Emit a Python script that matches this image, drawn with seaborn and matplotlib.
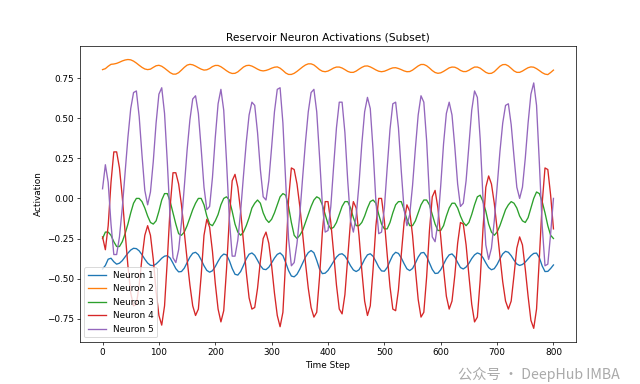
import matplotlib
matplotlib.use("Agg")
import matplotlib.pyplot as plt
import seaborn as sns

# ------------------------------------------------
# Data (one value every 5 steps)
# ------------------------------------------------

time_step = list(range(0, 801, 5))

neuron_names = ["Neuron 1", "Neuron 2", "Neuron 3", "Neuron 4", "Neuron 5"]

neuron_1 = [
    -0.440, -0.418, -0.379, -0.373, -0.395, -0.410, -0.404, -0.388, -0.365, -0.341,
    -0.322, -0.311, -0.313, -0.327, -0.351, -0.379, -0.403, -0.417, -0.419, -0.409,
    -0.392, -0.373, -0.360, -0.357, -0.372, -0.404, -0.438, -0.458, -0.456, -0.435,
    -0.401, -0.366, -0.342, -0.336, -0.351, -0.383, -0.420, -0.449, -0.460, -0.451,
    -0.425, -0.392, -0.363, -0.347, -0.352, -0.388, -0.437, -0.473, -0.478, -0.456,
    -0.418, -0.377, -0.348, -0.340, -0.355, -0.386, -0.419, -0.441, -0.444, -0.429,
    -0.402, -0.372, -0.349, -0.340, -0.357, -0.400, -0.450, -0.484, -0.489, -0.473,
    -0.441, -0.404, -0.366, -0.338, -0.325, -0.339, -0.386, -0.440, -0.469, -0.466,
    -0.449, -0.422, -0.393, -0.366, -0.349, -0.345, -0.359, -0.387, -0.420, -0.446,
    -0.456, -0.445, -0.415, -0.379, -0.352, -0.345, -0.361, -0.393, -0.428, -0.452,
    -0.454, -0.431, -0.391, -0.354, -0.336, -0.343, -0.371, -0.407, -0.439, -0.450,
    -0.437, -0.404, -0.366, -0.340, -0.337, -0.362, -0.403, -0.443, -0.468, -0.466,
    -0.445, -0.411, -0.376, -0.352, -0.346, -0.365, -0.400, -0.431, -0.440, -0.428,
    -0.405, -0.375, -0.352, -0.340, -0.347, -0.370, -0.402, -0.431, -0.445, -0.438,
    -0.412, -0.377, -0.346, -0.330, -0.336, -0.357, -0.385, -0.409, -0.418, -0.412,
    -0.397, -0.377, -0.357, -0.343, -0.341, -0.370, -0.421, -0.456, -0.455, -0.437,
    -0.415,
]

neuron_2 = [
    0.803, 0.809, 0.824, 0.836, 0.838, 0.842, 0.849, 0.857, 0.863, 0.866,
    0.864, 0.856, 0.844, 0.830, 0.817, 0.807, 0.803, 0.806, 0.817, 0.827,
    0.830, 0.824, 0.812, 0.798, 0.784, 0.775, 0.775, 0.784, 0.800, 0.817,
    0.831, 0.836, 0.833, 0.825, 0.815, 0.806, 0.800, 0.802, 0.810, 0.822,
    0.829, 0.829, 0.821, 0.809, 0.796, 0.785, 0.779, 0.780, 0.789, 0.804,
    0.819, 0.828, 0.830, 0.825, 0.816, 0.806, 0.798, 0.795, 0.798, 0.804,
    0.812, 0.818, 0.820, 0.812, 0.798, 0.782, 0.773, 0.773, 0.780, 0.792,
    0.806, 0.820, 0.832, 0.839, 0.839, 0.832, 0.818, 0.803, 0.793, 0.790,
    0.794, 0.803, 0.813, 0.819, 0.819, 0.813, 0.803, 0.792, 0.786, 0.786,
    0.794, 0.806, 0.817, 0.825, 0.826, 0.820, 0.811, 0.801, 0.793, 0.790,
    0.793, 0.800, 0.808, 0.814, 0.815, 0.810, 0.803, 0.795, 0.790, 0.791,
    0.800, 0.813, 0.826, 0.835, 0.835, 0.827, 0.813, 0.797, 0.785, 0.780,
    0.783, 0.792, 0.803, 0.814, 0.819, 0.818, 0.810, 0.798, 0.791, 0.791,
    0.799, 0.810, 0.819, 0.819, 0.812, 0.799, 0.786, 0.779, 0.780, 0.790,
    0.807, 0.824, 0.834, 0.835, 0.826, 0.811, 0.795, 0.786, 0.786, 0.794,
    0.805, 0.815, 0.820, 0.818, 0.809, 0.797, 0.784, 0.775, 0.772, 0.785,
    0.800,
]

neuron_3 = [
    -0.25, -0.21, -0.21, -0.23, -0.27, -0.30, -0.30, -0.27, -0.22, -0.16,
    -0.09, -0.03, 0.00, 0.00, -0.02, -0.06, -0.11, -0.15, -0.16, -0.14,
    -0.08, -0.01, 0.03, 0.03, -0.02, -0.09, -0.16, -0.22, -0.23, -0.21,
    -0.17, -0.12, -0.07, -0.03, 0.00, 0.00, -0.04, -0.11, -0.16, -0.17,
    -0.14, -0.10, -0.04, 0.00, 0.01, -0.01, -0.08, -0.16, -0.21, -0.23,
    -0.21, -0.17, -0.12, -0.06, -0.03, -0.01, -0.03, -0.09, -0.13, -0.15,
    -0.13, -0.09, -0.04, 0.01, 0.03, 0.02, -0.05, -0.15, -0.23, -0.25,
    -0.23, -0.20, -0.15, -0.10, -0.05, -0.01, 0.01, 0.00, -0.04, -0.10,
    -0.16, -0.19, -0.18, -0.15, -0.10, -0.05, -0.02, -0.02, -0.06, -0.12,
    -0.17, -0.17, -0.15, -0.11, -0.06, -0.02, -0.01, -0.03, -0.10, -0.16,
    -0.19, -0.19, -0.15, -0.09, -0.04, -0.02, -0.02, -0.07, -0.13, -0.17,
    -0.17, -0.14, -0.09, -0.04, -0.01, -0.01, -0.04, -0.10, -0.16, -0.20,
    -0.20, -0.17, -0.11, -0.06, -0.03, -0.03, -0.06, -0.11, -0.15, -0.17,
    -0.15, -0.10, -0.04, 0.01, 0.02, -0.02, -0.08, -0.16, -0.21, -0.23,
    -0.21, -0.17, -0.12, -0.07, -0.04, -0.02, -0.03, -0.06, -0.11, -0.14,
    -0.15, -0.12, -0.06, 0.00, 0.04, 0.03, -0.02, -0.09, -0.17, -0.23,
    -0.25,
]

neuron_4 = [
    -0.24, -0.32, -0.17, 0.10, 0.29, 0.29, 0.19, 0.01, -0.21, -0.42,
    -0.59, -0.67, -0.66, -0.54, -0.37, -0.23, -0.17, -0.23, -0.38, -0.58,
    -0.73, -0.79, -0.67, -0.38, -0.05, 0.16, 0.16, 0.09, -0.04, -0.21,
    -0.38, -0.54, -0.67, -0.73, -0.69, -0.48, -0.23, -0.13, -0.18, -0.33,
    -0.53, -0.69, -0.77, -0.70, -0.44, -0.12, 0.11, 0.15, 0.07, -0.08,
    -0.27, -0.46, -0.62, -0.69, -0.68, -0.56, -0.39, -0.25, -0.21, -0.28,
    -0.42, -0.59, -0.73, -0.80, -0.71, -0.38, -0.01, 0.19, 0.18, 0.09,
    -0.05, -0.22, -0.40, -0.56, -0.68, -0.74, -0.71, -0.49, -0.21, -0.02,
    -0.02, -0.15, -0.34, -0.54, -0.69, -0.72, -0.60, -0.37, -0.14, -0.02,
    -0.06, -0.23, -0.45, -0.64, -0.73, -0.67, -0.44, -0.17, 0.00, 0.00,
    -0.14, -0.35, -0.55, -0.69, -0.70, -0.57, -0.35, -0.15, -0.04, -0.08,
    -0.23, -0.44, -0.63, -0.74, -0.71, -0.49, -0.20, 0.01, 0.05, -0.06,
    -0.24, -0.44, -0.61, -0.69, -0.64, -0.48, -0.28, -0.15, -0.16, -0.29,
    -0.48, -0.66, -0.77, -0.74, -0.51, -0.19, 0.07, 0.14, 0.09, -0.03,
    -0.19, -0.36, -0.52, -0.64, -0.69, -0.64, -0.48, -0.31, -0.24, -0.29,
    -0.44, -0.61, -0.76, -0.81, -0.69, -0.37, -0.03, 0.19, 0.18, 0.02,
    -0.19,
]

neuron_5 = [
    0.06, 0.21, 0.10, -0.16, -0.35, -0.35, -0.24, -0.06, 0.16, 0.38,
    0.56, 0.66, 0.67, 0.51, 0.27, 0.05, -0.04, 0.04, 0.23, 0.47,
    0.65, 0.69, 0.53, 0.22, -0.13, -0.37, -0.40, -0.32, -0.15, 0.07,
    0.30, 0.49, 0.62, 0.64, 0.53, 0.31, 0.07, -0.07, -0.05, 0.13,
    0.38, 0.59, 0.68, 0.55, 0.23, -0.13, -0.36, -0.36, -0.26, -0.08,
    0.14, 0.35, 0.52, 0.60, 0.58, 0.41, 0.18, 0.01, -0.01, 0.11,
    0.32, 0.54, 0.68, 0.69, 0.47, 0.10, -0.25, -0.42, -0.40, -0.28,
    -0.10, 0.13, 0.35, 0.54, 0.66, 0.68, 0.54, 0.26, -0.04, -0.21,
    -0.20, -0.05, 0.20, 0.44, 0.60, 0.60, 0.41, 0.11, -0.14, -0.21,
    -0.11, 0.09, 0.34, 0.54, 0.63, 0.56, 0.30, -0.02, -0.22, -0.21,
    -0.06, 0.19, 0.43, 0.59, 0.60, 0.44, 0.17, -0.07, -0.17, -0.10,
    0.08, 0.31, 0.52, 0.64, 0.60, 0.36, 0.01, -0.24, -0.27, -0.15,
    0.08, 0.34, 0.53, 0.60, 0.52, 0.32, 0.09, -0.05, -0.03, 0.11,
    0.33, 0.55, 0.67, 0.63, 0.37, 0.00, -0.29, -0.38, -0.31, -0.14,
    0.07, 0.29, 0.47, 0.58, 0.59, 0.46, 0.26, 0.07, 0.00, 0.07,
    0.25, 0.47, 0.65, 0.72, 0.58, 0.22, -0.17, -0.42, -0.41, -0.22,
    0.00,
]

activations = [neuron_1, neuron_2, neuron_3, neuron_4, neuron_5]

# ------------------------------------------------
# Plot
# ------------------------------------------------

fig, ax = plt.subplots(figsize=(10, 6))

for values, name in zip(activations, neuron_names):
    sns.lineplot(x=time_step, y=values, label=name, ax=ax)

ax.set_title("Reservoir Neuron Activations (Subset)")
ax.set_xlabel("Time Step")
ax.set_ylabel("Activation")
ax.legend(loc="lower left")

# watermark in the bottom right corner, kept below the tick labels
fig.text(
    0.968, 0.004, "公众号 · DeepHub IMBA",
    ha="right", va="bottom", fontsize=16, color="#aaaaaa",
    family=["Noto Sans CJK SC", "DejaVu Sans"]
)

plt.savefig("out.png", dpi=64)
plt.close()
